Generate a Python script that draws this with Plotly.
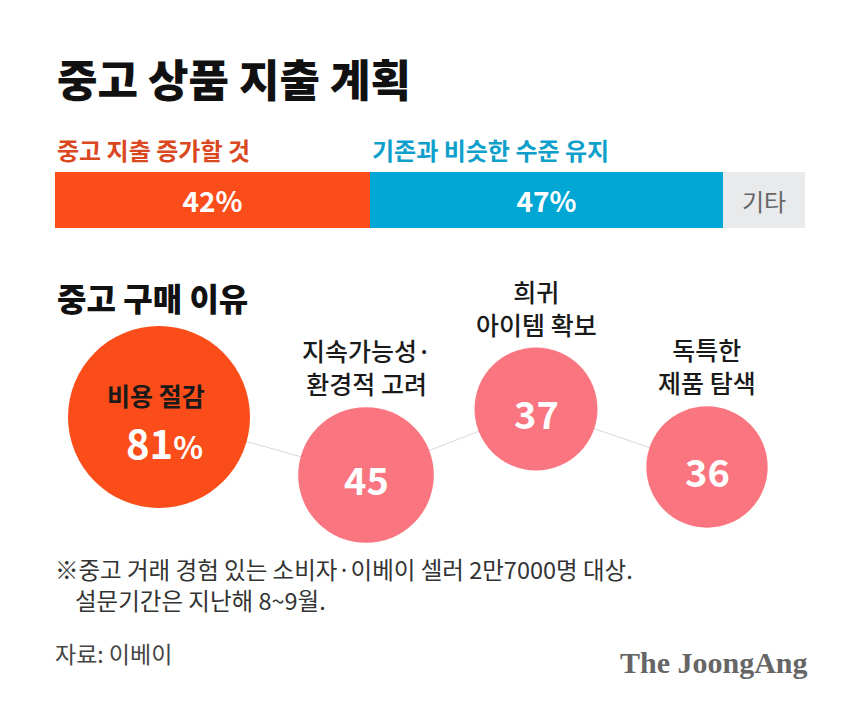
import plotly.graph_objects as go

# ---------------- data ----------------
title_text = "중고 상품 지출 계획"
plan_labels = ["중고 지출 증가할 것", "기존과 비슷한 수준 유지", "기타"]
plan_values = [42, 47, 11]

reason_title = "중고 구매 이유"
reason_labels = ["비용 절감", "지속가능성·<br>환경적 고려", "희귀<br>아이템 확보", "독특한<br>제품 탐색"]
reason_values = [81, 45, 37, 36]

note_lines = ["※중고 거래 경험 있는 소비자·이베이 셀러 2만7000명 대상.", "설문기간은 지난해 8~9월."]
source_text = "자료: 이베이"
brand_text = "The JoongAng"

# ---------------- layout / style ----------------
W, H = 860, 713
FONT = "Noto Sans CJK KR"
ORANGE = "#FA4D19"
ORANGE_TXT = "#DA4720"
BLUE = "#00A6D4"
BLUE_TXT = "#0E9FCB"
GRAY_BAR = "#E8EAEC"
PINK = "#F9757F"
DARK = "#1A1A1A"

bar_colors = [ORANGE, BLUE, GRAY_BAR]
bar_label_colors = [ORANGE_TXT, BLUE_TXT, None]
bar_left_px, bar_right_px = 55, 805
bar_top_px, bar_bottom_px = 172, 228

# bubble centre positions (pixels) and max radius
bubble_cx = [159, 366, 536, 707]
bubble_cy = [417, 475, 409, 467]
max_radius = 91
bubble_colors = [ORANGE, PINK, PINK, PINK]


def py(y_px):
    return 1 - y_px / H


fig = go.Figure()

# ---- stacked bar ----
for i, (lab, val) in enumerate(zip(plan_labels, plan_values)):
    is_other = bar_label_colors[i] is None
    fig.add_trace(go.Bar(
        x=[val], y=[0], orientation="h",
        marker=dict(color=bar_colors[i], line=dict(width=0)),
        text=[lab if is_other else f"{val}%"],
        textposition="inside", insidetextanchor="middle",
        textfont=dict(family=FONT, size=24 if is_other else 28,
                      color="#666666" if is_other else "white",
                      weight=400 if is_other else 700),
        xaxis="x", yaxis="y", showlegend=False, hoverinfo="skip",
    ))

# labels above bar
start = 0
for i, (lab, val) in enumerate(zip(plan_labels, plan_values)):
    if bar_label_colors[i] is not None:
        fig.add_annotation(x=start, xref="x", y=py(150), yref="paper",
                           text=lab, showarrow=False, xanchor="left", yanchor="middle",
                           font=dict(family=FONT, size=24, color=bar_label_colors[i], weight=700))
    start += val

# ---- bubbles ----
fig.add_trace(go.Scatter(
    x=bubble_cx, y=bubble_cy, mode="lines",
    line=dict(color="#D9D9D9", width=1),
    xaxis="x2", yaxis="y2", showlegend=False, hoverinfo="skip",
))
sizeref = 2 * max(reason_values) / (2 * max_radius) ** 2
fig.add_trace(go.Scatter(
    x=bubble_cx, y=bubble_cy, mode="markers",
    marker=dict(size=reason_values, sizemode="area", sizeref=sizeref,
                color=bubble_colors, line=dict(width=0), opacity=1),
    xaxis="x2", yaxis="y2", showlegend=False, hoverinfo="skip",
))

for i, (lab, val) in enumerate(zip(reason_labels, reason_values)):
    cx, cy = bubble_cx[i], bubble_cy[i]
    r = max_radius * (val / max(reason_values)) ** 0.5
    if i == 0:
        fig.add_annotation(x=cx - 3, y=cy - 22, xref="x2", yref="y2", text=lab,
                           showarrow=False, xanchor="center", yanchor="middle",
                           font=dict(family=FONT, size=25, color=DARK, weight=700))
        fig.add_annotation(x=cx + 5, y=cy + 25, xref="x2", yref="y2",
                           text=f"{val}<span style='font-size:31px'>%</span>",
                           showarrow=False, xanchor="center", yanchor="middle",
                           font=dict(family=FONT, size=40, color="white", weight=700))
    else:
        fig.add_annotation(x=cx, y=cy + 3, xref="x2", yref="y2", text=str(val),
                           showarrow=False, xanchor="center", yanchor="middle",
                           font=dict(family=FONT, size=38, color="white", weight=700))
        fig.add_annotation(x=cx, y=cy - r - 4, xref="x2", yref="y2", text=lab,
                           showarrow=False, xanchor="center", yanchor="bottom",
                           font=dict(family=FONT, size=25, color=DARK, weight=500))

# ---- texts ----
fig.add_annotation(x=55 / W, y=py(78), xref="paper", yref="paper", text=title_text,
                   showarrow=False, xanchor="left", yanchor="middle",
                   font=dict(family=FONT, size=44, color="#111111", weight=900))
fig.add_annotation(x=55 / W, y=py(297), xref="paper", yref="paper", text=reason_title,
                   showarrow=False, xanchor="left", yanchor="middle",
                   font=dict(family=FONT, size=32, color="#111111", weight=900))
fig.add_annotation(x=53 / W, y=py(569), xref="paper", yref="paper", text=note_lines[0],
                   showarrow=False, xanchor="left", yanchor="middle",
                   font=dict(family=FONT, size=23.5, color="#333333"))
fig.add_annotation(x=73 / W, y=py(600), xref="paper", yref="paper", text=note_lines[1],
                   showarrow=False, xanchor="left", yanchor="middle",
                   font=dict(family=FONT, size=23.5, color="#333333"))
fig.add_annotation(x=53 / W, y=py(653), xref="paper", yref="paper", text=source_text,
                   showarrow=False, xanchor="left", yanchor="middle",
                   font=dict(family=FONT, size=23, color="#444444"))
fig.add_annotation(x=810 / W, y=py(662), xref="paper", yref="paper", text=f"<b>{brand_text}</b>",
                   showarrow=False, xanchor="right", yanchor="middle",
                   font=dict(family="Liberation Serif", size=30, color="#666666"))

fig.update_layout(
    width=W, height=H,
    margin=dict(l=0, r=0, t=0, b=0, pad=0),
    paper_bgcolor="white", plot_bgcolor="rgba(0,0,0,0)",
    barmode="stack", bargap=0,
    xaxis=dict(domain=[bar_left_px / W, bar_right_px / W], range=[0, sum(plan_values)],
               visible=False, fixedrange=True),
    yaxis=dict(domain=[py(bar_bottom_px), py(bar_top_px)], range=[-0.5, 0.5],
               visible=False, fixedrange=True),
    xaxis2=dict(domain=[0, 1], range=[0, W], visible=False, anchor="y2"),
    yaxis2=dict(domain=[0, 1], range=[H, 0], visible=False, anchor="x2"),
    font=dict(family=FONT),
    showlegend=False,
)

fig.write_html("out.html", config={"displayModeBar": False})
